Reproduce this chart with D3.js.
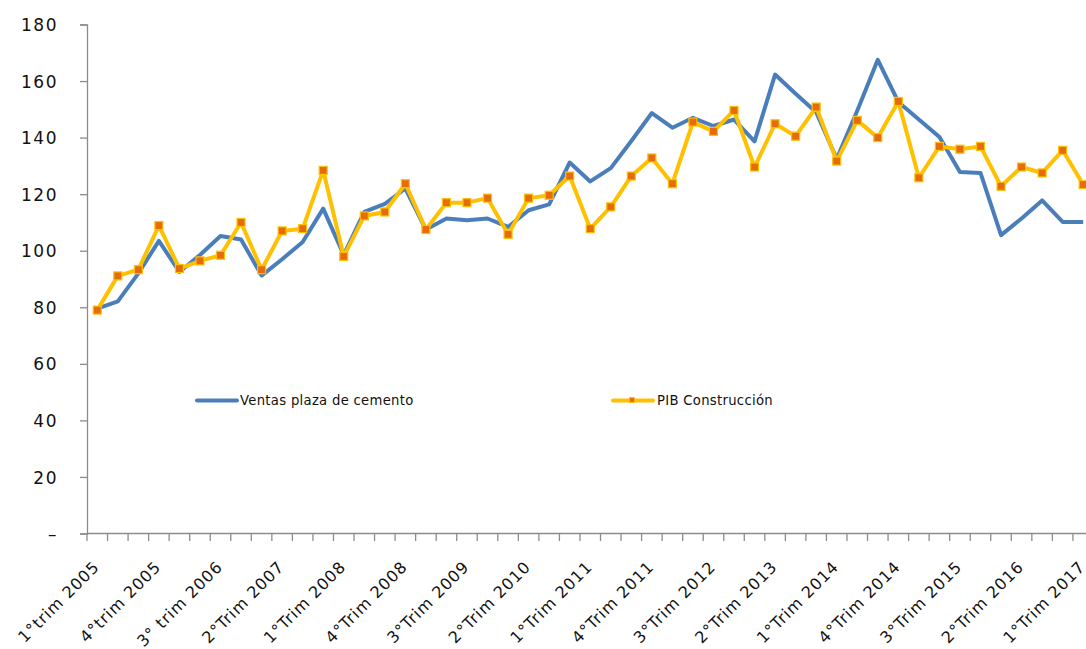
<!DOCTYPE html>
<html>
<head>
<meta charset="utf-8">
<script src="https://cdn.jsdelivr.net/npm/d3@7"></script>
<style>
  html, body { margin: 0; padding: 0; background: #fff; }
  svg { display: block; font-family: "DejaVu Sans", Verdana, sans-serif; }
</style>
</head>
<body>
<svg id="chart" width="1086" height="649"></svg>
<script>
// ---- Data ----
const tickLabels = ["1°trim 2005", "4°trim 2005", "3° trim 2006", "2°Trim 2007", "1°Trim 2008",
  "4°Trim 2008", "3°Trim 2009", "2°Trim 2010", "1°Trim 2011", "4°Trim 2011", "3°Trim 2012",
  "2°Trim 2013", "1°Trim 2014", "4°Trim 2014", "3°Trim 2015", "2°Trim 2016", "1°Trim 2017"];
const tickEvery = 3;

const ventas = [79.5, 82.1, 92.0, 103.5, 92.5, 98.5, 105.2, 104.0, 91.2, 97.0,
  103.1, 114.9, 98.5, 113.7, 116.6, 122.0, 107.5, 111.4, 110.8, 111.4,
  108.4, 114.3, 116.4, 131.2, 124.5, 129.2, 138.8, 148.7, 143.5, 147.0,
  144.1, 146.4, 138.7, 162.3, 155.5, 149.0, 132.5, 149.5, 167.5, 152.6,
  146.4, 140.2, 127.8, 127.5, 105.5, 111.4, 117.8, 110.2, 110.2];

const pib = [79.0, 91.1, 93.3, 108.9, 93.7, 96.4, 98.4, 110.0, 93.3, 107.0,
  107.8, 128.4, 98.0, 112.3, 113.7, 123.7, 107.5, 117.0, 117.0, 118.6,
  105.8, 118.6, 119.6, 126.4, 107.8, 115.5, 126.4, 132.8, 123.7, 145.5,
  142.2, 149.6, 129.6, 144.9, 140.5, 150.8, 131.7, 146.1, 140.0, 152.8,
  125.8, 136.9, 135.9, 136.9, 122.8, 129.6, 127.5, 135.5, 123.4];

const yTicks = [0, 20, 40, 60, 80, 100, 120, 140, 160, 180];
const seriesNames = ["Ventas plaza de cemento", "PIB Construcción"];

// ---- Layout ----
const svg = d3.select("#chart");
const axisColor = "#8c8c8c";
const blue = "#4a7ebb";
const gold = "#ffc000";
const orange = "#e46c0a";

const idx = d3.range(ventas.length);
const x = d3.scaleBand().domain(idx).range([87, 87 + 20.54 * ventas.length]).padding(0);
const cx = i => x(i) + x.bandwidth() / 2;
const y = d3.scaleLinear().domain([0, 180]).range([533.5, 24.5]);

// Y axis
const yAxis = d3.axisLeft(y).tickValues(yTicks).tickSize(7).tickPadding(22)
  .tickFormat(d => d === 0 ? "–" : d3.format("d")(d));
const gy = svg.append("g").attr("transform", "translate(87,0)").call(yAxis);
gy.select(".domain").attr("stroke", axisColor).attr("stroke-width", 1.3);
gy.selectAll(".tick line").attr("stroke", axisColor).attr("stroke-width", 1.3);
gy.selectAll(".tick text").attr("fill", "#111").attr("font-size", 17)
  .attr("letter-spacing", 1.5).attr("font-family", "DejaVu Sans, Verdana, sans-serif")
  .attr("dy", "0.36em");

// X axis
const boundaries = d3.range(ventas.length + 1).map(i => 87 + 20.54 * i);
const gx = svg.append("g");
gx.append("line").attr("x1", 87).attr("x2", 1086).attr("y1", 533.5).attr("y2", 533.5)
  .attr("stroke", axisColor).attr("stroke-width", 1.3);
gx.selectAll("line.tk").data(boundaries).enter().append("line").attr("class", "tk")
  .attr("x1", d => d).attr("x2", d => d).attr("y1", 533.5).attr("y2", 541)
  .attr("stroke", axisColor).attr("stroke-width", 1.3);
gx.selectAll("text").data(tickLabels).enter().append("text")
  .attr("transform", (d, k) => `translate(${cx(k * tickEvery) + 3},568) rotate(-45)`)
  .attr("text-anchor", "end")
  .attr("font-size", 16).attr("letter-spacing", 0.9).attr("fill", "#111")
  .text(d => d);

// Lines
const line = d3.line().x((d, i) => cx(i)).y(d => y(d));
svg.append("path").datum(ventas).attr("d", line).attr("fill", "none")
  .attr("stroke", blue).attr("stroke-width", 4).attr("stroke-linejoin", "round");
svg.append("path").datum(pib).attr("d", line).attr("fill", "none")
  .attr("stroke", gold).attr("stroke-width", 4).attr("stroke-linejoin", "round");
svg.selectAll("rect.mk").data(pib).enter().append("rect").attr("class", "mk")
  .attr("x", (d, i) => cx(i) - 4).attr("y", d => y(d) - 4)
  .attr("width", 8).attr("height", 8)
  .attr("fill", orange).attr("stroke", gold).attr("stroke-width", 1.2);

// Legend
const lg = svg.append("g");
lg.append("line").attr("x1", 197).attr("x2", 237).attr("y1", 400.5).attr("y2", 400.5)
  .attr("stroke", blue).attr("stroke-width", 4).attr("stroke-linecap", "round");
lg.append("text").attr("x", 240).attr("y", 405).attr("font-size", 13.2)
  .attr("letter-spacing", 0.3).attr("fill", "#111").text(seriesNames[0]);
lg.append("line").attr("x1", 613).attr("x2", 653).attr("y1", 400.5).attr("y2", 400.5)
  .attr("stroke", gold).attr("stroke-width", 4).attr("stroke-linecap", "round");
lg.append("rect").attr("x", 629.5).attr("y", 397.5).attr("width", 5).attr("height", 5)
  .attr("fill", orange).attr("stroke", gold).attr("stroke-width", 0.8);
lg.append("text").attr("x", 657).attr("y", 405).attr("font-size", 13.2)
  .attr("letter-spacing", 0.3).attr("fill", "#111").text(seriesNames[1]);
</script>
</body>
</html>
